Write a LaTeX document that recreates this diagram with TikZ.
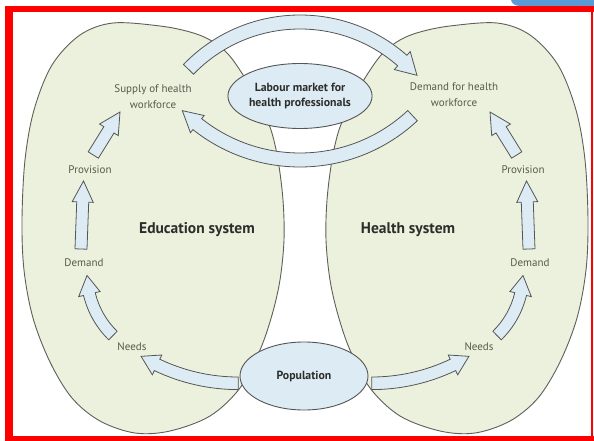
\documentclass[tikz,border=0pt]{standalone}
\usepackage{fontspec}
\setmainfont{PT Sans}
\usetikzlibrary{calc,shapes.geometric}
\definecolor{eggfill}{RGB}{236,241,222}
\definecolor{eggline}{RGB}{95,95,90}
\definecolor{arrfill}{RGB}{221,236,244}
\definecolor{arrline}{RGB}{85,85,85}
\definecolor{lbl}{RGB}{85,90,75}
\definecolor{darktxt}{RGB}{45,45,43}
\definecolor{framered}{RGB}{255,0,0}
\definecolor{tabblue}{RGB}{91,155,213}
\tikzset{
  eggshape/.style={fill=eggfill, draw=eggline, line width=0.9pt},
  blockarrow/.style={fill=arrfill, draw=arrline, line width=0.8pt, line join=miter},
  oval/.style={ellipse, fill=arrfill, draw=arrline, line width=0.9pt, inner sep=0pt,
    align=center, text=darktxt, font=\fontsize{11.8}{15}\selectfont\bfseries},
  lab/.style={text=lbl, align=center, font=\fontsize{11}{16}\selectfont},
  systitle/.style={text=darktxt, font=\fontsize{15.5}{18}\selectfont\bfseries},
}
% arc block arrow: cx, cy, r, tail angle, head-base angle, tip angle, half shaft, half head
\newcommand\ArcArrow[8]{%
  \draw[blockarrow] ([shift={(#4:{#3+#7})}]#1,#2)
    arc[start angle=#4, end angle=#5, radius={#3+#7}]
    -- ([shift={(#5:{#3+#8})}]#1,#2)
    -- ([shift={(#6:#3)}]#1,#2)
    -- ([shift={(#5:{#3-#8})}]#1,#2)
    -- ([shift={(#5:{#3-#7})}]#1,#2)
    arc[start angle=#5, end angle=#4, radius={#3-#7}]
    -- cycle;}
% straight block arrow: x1 y1 (tail), x2 y2 (tip), head length, half shaft, half head
\newcommand\StrArrow[7]{%
  \coordinate (sa-a) at (#1,#2);
  \coordinate (sa-b) at (#3,#4);
  \coordinate (sa-h) at ($(sa-b)!#5pt!(sa-a)$);
  \draw[blockarrow] ($(sa-a)!#6pt!90:(sa-b)$) -- ($(sa-h)!#6pt!90:(sa-b)$)
    -- ($(sa-h)!#7pt!90:(sa-b)$) -- (sa-b) -- ($(sa-h)!#7pt!-90:(sa-b)$)
    -- ($(sa-h)!#6pt!-90:(sa-b)$) -- ($(sa-a)!#6pt!-90:(sa-b)$) -- cycle;}
\newcommand\EggPath{plot[smooth cycle, tension=0.55] coordinates {
  (113,23) (160,26) (190,32) (210,40) (228,54) (245,78) (260,105) (271,130)
  (278,160) (283,200) (284,240) (280,280) (272,315) (260,350) (240,388)
  (210,416) (170,431) (135,433) (100,421) (72,398) (50,362) (33,318)
  (24,270) (22,220) (25,160) (34,110) (52,65) (80,35)}}
\newcommand\SideArrows{%
  \ArcArrow{238.3}{194.6}{188.7}{90}{115.5}{121}{6.3}{11}
  \ArcArrow{173}{274}{86}{134.3}{166.5}{179}{6}{11}
  \StrArrow{81}{249}{83.5}{181}{21}{6}{10.5}
  \StrArrow{93.3}{155}{120}{112}{21}{6}{11}}
\begin{document}
\begin{tikzpicture}[x=1pt, y=-1pt]
\useasboundingbox (0,0) rectangle (594,441);
\fill[white] (0,0) rectangle (594,441);
% eggs
\draw[eggshape] \EggPath;
\begin{scope}[shift={(610,0)}, xscale=-1]
  \draw[eggshape] \EggPath;
\end{scope}
% big arcs
\ArcArrow{300}{177}{155}{-136}{-48.7}{-41}{7}{12}
\ArcArrow{300}{-5}{165}{47}{128.5}{135.5}{7}{11}
% side chains
\SideArrows
\begin{scope}[shift={(610,0)}, xscale=-1]
  \SideArrows
\end{scope}
% ovals
\node[oval, minimum width=136pt, minimum height=65pt] (labour) at (300,96)
  {Labour market for\\health professionals};
\node[oval, minimum width=128pt, minimum height=68pt] (population) at (304,376)
  {Population};
% labels
\node[lab] (supply) at (153,97) {Supply of health\\workforce};
\node[lab] (demandfor) at (454,95) {Demand for health\\workforce};
\node[lab] (provL) at (90,170) {Provision};
\node[lab] (provR) at (523,170) {Provision};
\node[lab] (demL) at (84,263) {Demand};
\node[lab] (demR) at (530,263) {Demand};
\node[lab] (needL) at (132,347) {Needs};
\node[lab] (needR) at (479,347) {Needs};
\node[systitle] (edu) at (197,230) {Education system};
\node[systitle] (hs) at (408,230) {Health system};
% frame and tab
\fill[tabblue] (511,0) .. controls (512,4) and (515,6) .. (521,6) -- (594,6) -- (594,0) -- cycle;
\fill[framered] (5,6) rectangle (594,12);
\fill[framered] (5,6) rectangle (13,441);
\fill[framered] (5,436) rectangle (594,441);
\fill[framered] (591,6) rectangle (592.5,441);
\end{tikzpicture}
\end{document}
